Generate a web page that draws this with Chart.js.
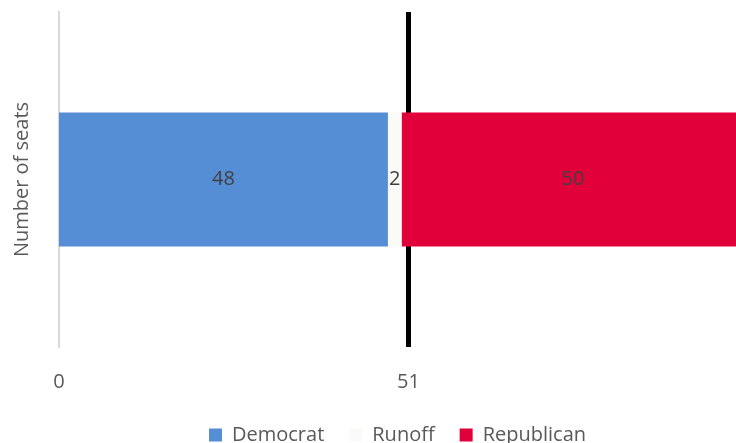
<!DOCTYPE html>
<html>
<head>
<meta charset="utf-8">
<script src="https://cdn.jsdelivr.net/npm/chart.js@4/dist/chart.umd.min.js"></script>
<style>
  html, body { margin: 0; padding: 0; background: #fff; }
  #wrap { width: 736px; height: 443px; }
</style>
</head>
<body>
<div id="wrap"><canvas id="seatsChart"></canvas></div>
<script>
// Chart data
const categories = ['Seats'];
const seriesNames = ['Democrat', 'Runoff', 'Republican'];
const democratSeats = [48];
const runoffSeats = [2];
const republicanSeats = [50];
const xTickValues = [0, 51];   // only these ticks are labelled
const majorityMark = 51;

const FONT = "'Open Sans', sans-serif";
const TEXT = '#595959';

// Draws the value in the middle of every bar
const barLabels = {
  id: 'barLabels',
  afterDatasetsDraw(chart) {
    const ctx = chart.ctx;
    ctx.save();
    ctx.font = "20px " + FONT;
    ctx.fillStyle = '#404040';
    ctx.textAlign = 'center';
    ctx.textBaseline = 'middle';
    chart.data.datasets.forEach((ds, i) => {
      chart.getDatasetMeta(i).data.forEach((bar, j) => {
        const p = bar.getProps(['x', 'y', 'base'], true);
        ctx.fillText(ds.data[j], (p.x + p.base) / 2, p.y);
      });
    });
    ctx.restore();
  }
};

// The legend keeps wide gaps between items but sits lower than Chart.js puts it
const tightLegend = {
  id: 'tightLegend',
  beforeInit(chart) {
    const legend = chart.legend;
    if (!legend) return;
    const fit = legend.fit;
    legend.fit = function () {
      fit.call(this);
      this.height -= 12;
    };
  }
};

new Chart(document.getElementById('seatsChart'), {
  type: 'bar',
  data: {
    labels: categories,
    datasets: [
      { label: seriesNames[0], data: democratSeats, backgroundColor: '#558ED5' },
      { label: seriesNames[1], data: runoffSeats, backgroundColor: '#FAFAF8' },
      { label: seriesNames[2], data: republicanSeats, backgroundColor: '#E2003A' }
    ]
  },
  options: {
    indexAxis: 'y',
    responsive: true,
    maintainAspectRatio: false,
    animation: false,
    layout: { padding: { top: 12, right: 0, left: 0, bottom: 0 } },
    datasets: { bar: { barPercentage: 0.4, categoryPercentage: 1 } },
    plugins: {
      tooltip: { enabled: false },
      legend: {
        position: 'bottom',
        fullSize: false,   // centre it under the plot area, not the canvas
        labels: {
          font: { family: FONT, size: 20 },
          color: TEXT,
          boxWidth: 13,
          boxHeight: 13,
          padding: 25
        }
      }
    },
    scales: {
      x: {
        stacked: true,
        min: 0,
        max: 98.8,   // the 100-seat end falls just past the right edge
        afterBuildTicks: (axis) => { axis.ticks = xTickValues.map(v => ({ value: v })); },
        afterFit: (axis) => { axis.height = 53; },
        ticks: {
          font: { family: FONT, size: 20 },
          color: TEXT,
          padding: 23,
          maxRotation: 0
        },
        grid: {
          drawTicks: false,
          color: (c) => c.tick && c.tick.value === majorityMark ? '#000000' : 'rgba(0,0,0,0)',
          lineWidth: (c) => c.tick && c.tick.value === majorityMark ? 5 : 0
        },
        border: { display: false }
      },
      y: {
        stacked: true,
        afterFit: (axis) => { axis.width = 59; },
        ticks: { display: false },
        grid: { display: false, drawTicks: false },
        border: { display: true, color: '#D9D9D9', width: 2 },
        title: {
          display: true,
          text: 'Number of seats',
          font: { family: FONT, size: 20 },
          color: TEXT,
          padding: { top: 10, bottom: 0 }
        }
      }
    }
  },
  plugins: [barLabels, tightLegend]
});
</script>
</body>
</html>
